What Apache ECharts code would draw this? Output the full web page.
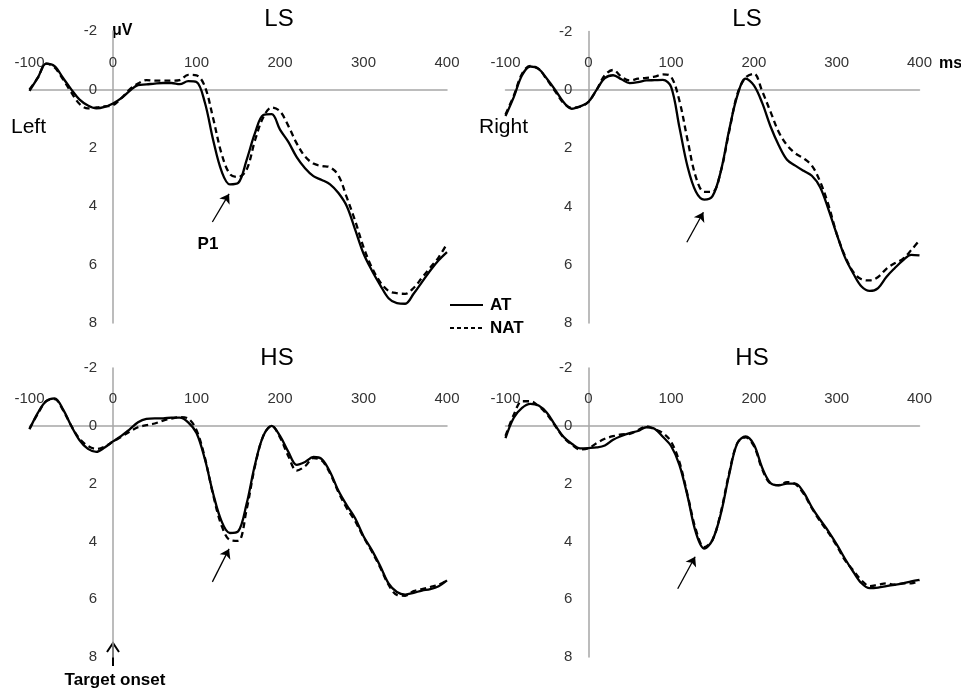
<!DOCTYPE html>
<html>
<head>
<meta charset="utf-8">
<script src="https://cdn.jsdelivr.net/npm/echarts@6/dist/echarts.min.js"></script>
<style>
html,body{margin:0;padding:0;background:#fff;}
#chart{width:961px;height:692px;}
</style>
</head>
<body>
<div id="chart"></div>
<script>
// Time (ms) sample points
const times = [-100,-90,-80,-70,-60,-50,-40,-30,-20,-10,0,10,20,30,40,50,60,70,80,90,100,110,120,130,140,150,160,170,180,190,200,210,220,230,240,250,260,270,280,290,300,310,320,330,340,350,360,370,380,390,400];

// Panel titles / ticks
const panelTitles = ['LS', 'LS', 'HS', 'HS'];
const xTicks = [-100, 0, 100, 200, 300, 400];
const yTicks = [-2, 0, 2, 4, 6, 8];

// Top-left: LS Left
const lsLeftAT  = [0.05,-0.4,-0.88,-0.8,-0.4,0.0,0.35,0.55,0.65,0.6,0.48,0.3,0.05,-0.15,-0.17,-0.2,-0.22,-0.22,-0.18,-0.28,-0.25,0.45,1.74,2.8,3.25,3.2,2.42,1.5,0.88,0.85,1.38,1.8,2.32,2.7,2.97,3.1,3.25,3.55,4.0,4.8,5.62,6.2,6.7,7.15,7.32,7.34,7.0,6.6,6.2,5.85,5.57];
const lsLeftNAT = [0.0,-0.4,-0.88,-0.75,-0.35,0.1,0.5,0.65,0.62,0.58,0.54,0.3,0.0,-0.2,-0.32,-0.3,-0.3,-0.3,-0.32,-0.5,-0.48,-0.1,1.0,2.2,2.9,3.0,2.75,1.75,0.95,0.62,0.75,1.25,1.85,2.3,2.54,2.62,2.67,2.95,3.7,4.5,5.4,6.1,6.6,6.9,6.98,7.0,6.8,6.45,6.1,5.75,5.28];

// Top-right: LS Right
const lsRightAT  = [0.9,0.25,-0.5,-0.8,-0.72,-0.38,0.0,0.42,0.65,0.57,0.42,0.0,-0.4,-0.5,-0.36,-0.23,-0.26,-0.32,-0.33,-0.34,-0.1,1.28,2.65,3.5,3.77,3.65,2.8,1.4,0.2,-0.38,-0.15,0.45,1.25,1.9,2.4,2.6,2.78,2.95,3.34,4.1,4.95,5.75,6.3,6.75,6.9,6.8,6.42,6.12,5.85,5.66,5.68];
const lsRightNAT = [0.85,0.2,-0.55,-0.82,-0.72,-0.35,0.05,0.45,0.62,0.58,0.42,0.0,-0.5,-0.68,-0.45,-0.32,-0.38,-0.41,-0.45,-0.53,-0.45,0.37,1.74,3.0,3.5,3.5,2.8,1.45,0.15,-0.42,-0.55,0.05,0.75,1.45,1.9,2.18,2.35,2.6,3.15,3.95,4.94,5.7,6.25,6.5,6.54,6.42,6.14,5.95,5.8,5.5,5.16];

// Bottom-left: HS Left
const hsLeftAT  = [0.12,-0.45,-0.85,-0.95,-0.58,0.0,0.5,0.8,0.9,0.75,0.54,0.35,0.12,-0.12,-0.24,-0.26,-0.26,-0.28,-0.28,-0.12,0.25,1.15,2.35,3.3,3.71,3.65,2.7,1.35,0.35,0.0,0.35,0.9,1.35,1.25,1.08,1.15,1.6,2.25,2.75,3.2,3.82,4.3,4.85,5.45,5.75,5.84,5.78,5.7,5.65,5.55,5.35];
const hsLeftNAT = [0.1,-0.42,-0.85,-0.92,-0.55,0.0,0.45,0.7,0.8,0.72,0.55,0.38,0.2,0.05,-0.02,-0.08,-0.18,-0.25,-0.3,-0.25,0.15,1.1,2.4,3.45,3.95,3.98,2.9,1.4,0.35,0.0,0.4,1.05,1.55,1.4,1.12,1.2,1.65,2.3,2.85,3.3,3.85,4.35,4.9,5.5,5.85,5.88,5.72,5.65,5.58,5.5,5.35];

// Bottom-right: HS Right
const hsRightAT  = [0.43,-0.28,-0.62,-0.76,-0.7,-0.45,-0.02,0.38,0.62,0.78,0.77,0.75,0.68,0.48,0.35,0.25,0.18,0.05,0.1,0.38,0.7,1.35,2.45,3.7,4.25,3.95,3.05,1.7,0.6,0.37,0.65,1.45,1.98,2.06,2.0,2.0,2.3,2.82,3.25,3.65,4.1,4.6,5.05,5.45,5.62,5.6,5.55,5.5,5.45,5.38,5.33];
const hsRightNAT = [0.35,-0.38,-0.85,-0.85,-0.68,-0.4,0.0,0.4,0.65,0.82,0.78,0.6,0.45,0.36,0.3,0.28,0.15,0.02,0.12,0.25,0.55,1.25,2.4,3.6,4.2,3.95,3.0,1.65,0.6,0.4,0.7,1.5,2.0,2.05,1.95,2.02,2.35,2.85,3.3,3.7,4.15,4.65,5.0,5.35,5.55,5.5,5.45,5.5,5.45,5.45,5.35];

// P1 arrow annotation endpoints in data space [ms, µV]
const p1Arrows = [
  [[119, 4.54], [139, 3.58]],
  [[119, 5.23], [139, 4.2]],
  [[119, 5.4], [139, 4.26]],
  [[108, 5.64], [129, 4.53]]
];

const panels = [
  {at: lsLeftAT,  nat: lsLeftNAT},
  {at: lsRightAT, nat: lsRightNAT},
  {at: hsLeftAT,  nat: hsLeftNAT},
  {at: hsRightAT, nat: hsRightNAT}
];

const grids = [
  {left: 29.5, top: 31, width: 417.5, height: 292},
  {left: 505.5, top: 31.5, width: 414, height: 291.5},
  {left: 29.5, top: 368, width: 417.5, height: 289},
  {left: 505.5, top: 368, width: 414, height: 289}
];

const FONT = '"Liberation Sans", Arial, sans-serif';
const AXIS_GRAY = '#a6a6a6';

// axes cross at (0 ms, 0 µV): offsets move each axis from the grid edge to the zero position
const xAxes = grids.map((g, i) => ({
  gridIndex: i, type: 'value', min: -100, max: 400, interval: 100,
  position: 'top',
  offset: -g.height * 0.2,
  axisLine: {onZero: false, lineStyle: {color: AXIS_GRAY, width: 1.5}},
  axisTick: {show: false},
  splitLine: {show: false},
  axisLabel: {color: '#333', fontSize: 15, fontFamily: FONT, margin: 19,
    customValues: xTicks}
}));
const yAxes = grids.map((g, i) => ({
  gridIndex: i, type: 'value', min: -2, max: 8, interval: 2, inverse: true,
  position: 'left',
  offset: -g.width * 0.2,
  axisLine: {onZero: false, lineStyle: {color: AXIS_GRAY, width: 1.5}},
  axisTick: {show: false},
  splitLine: {show: false},
  axisLabel: {color: '#333', fontSize: 15, fontFamily: FONT, margin: 16,
    customValues: yTicks}
}));

const series = [];
panels.forEach((p, i) => {
  series.push({
    name: 'AT', type: 'line', xAxisIndex: i, yAxisIndex: i,
    data: times.map((t, k) => [t, p.at[k]]),
    showSymbol: false, smooth: 0.35, silent: true,
    lineStyle: {color: '#000', width: 2.3},
    markLine: {
      silent: true, symbol: ['none', 'arrow'], symbolSize: 9,
      label: {show: false},
      lineStyle: {color: '#000', width: 1.3, type: 'solid'},
      emphasis: {disabled: true},
      data: [[{coord: p1Arrows[i][0]}, {coord: p1Arrows[i][1]}]]
    },
    z: 3
  });
  series.push({
    name: 'NAT', type: 'line', xAxisIndex: i, yAxisIndex: i,
    data: times.map((t, k) => [t, p.nat[k]]),
    showSymbol: false, smooth: 0.35, silent: true,
    lineStyle: {color: '#000', width: 2.3, type: [6, 4]},
    z: 2
  });
});

const titleStyle = {fontSize: 24, fontFamily: FONT, fill: '#000'};
const boldStyle = {fontSize: 16, fontWeight: 'bold', fontFamily: FONT, fill: '#000'};

const graphic = [
  {type: 'text', x: 279, y: 19, style: Object.assign({text: panelTitles[0], align: 'center', verticalAlign: 'middle'}, titleStyle)},
  {type: 'text', x: 747, y: 19, style: Object.assign({text: panelTitles[1], align: 'center', verticalAlign: 'middle'}, titleStyle)},
  {type: 'text', x: 277, y: 358, style: Object.assign({text: panelTitles[2], align: 'center', verticalAlign: 'middle'}, titleStyle)},
  {type: 'text', x: 752, y: 358, style: Object.assign({text: panelTitles[3], align: 'center', verticalAlign: 'middle'}, titleStyle)},
  {type: 'text', x: 11, y: 127, style: {text: 'Left', fontSize: 21, fontFamily: FONT, fill: '#000', verticalAlign: 'middle'}},
  {type: 'text', x: 479, y: 127, style: {text: 'Right', fontSize: 21, fontFamily: FONT, fill: '#000', verticalAlign: 'middle'}},
  {type: 'text', x: 112, y: 31, style: Object.assign({text: 'μV', verticalAlign: 'middle'}, boldStyle)},
  {type: 'text', x: 939, y: 64, style: Object.assign({text: 'ms', verticalAlign: 'middle'}, boldStyle)},
  {type: 'text', x: 208, y: 244, style: Object.assign({text: 'P1', align: 'center', verticalAlign: 'middle'}, boldStyle, {fontSize: 17})},
  // legend
  {type: 'line', shape: {x1: 450, y1: 305, x2: 483, y2: 305}, style: {stroke: '#000', lineWidth: 2}},
  {type: 'text', x: 490, y: 305, style: Object.assign({text: 'AT', verticalAlign: 'middle'}, boldStyle, {fontSize: 17})},
  {type: 'line', shape: {x1: 450, y1: 328, x2: 483, y2: 328}, style: {stroke: '#000', lineWidth: 2, lineDash: [4, 3]}},
  {type: 'text', x: 490, y: 328, style: Object.assign({text: 'NAT', verticalAlign: 'middle'}, boldStyle, {fontSize: 17})},
  // target onset
  {type: 'polyline', shape: {points: [[113, 666], [113, 643]]}, style: {stroke: '#000', lineWidth: 2}},
  {type: 'polyline', shape: {points: [[107, 652], [113, 643], [119, 652]]}, style: {stroke: '#000', lineWidth: 2, fill: null}},
  {type: 'text', x: 115, y: 680, style: Object.assign({text: 'Target onset', align: 'center', verticalAlign: 'middle'}, boldStyle, {fontSize: 17})}
];

const chart = echarts.init(document.getElementById('chart'), null, {renderer: 'canvas'});
chart.setOption({
  animation: false,
  backgroundColor: '#fff',
  grid: grids,
  xAxis: xAxes,
  yAxis: yAxes,
  series: series,
  graphic: graphic
});
</script>
</body>
</html>
